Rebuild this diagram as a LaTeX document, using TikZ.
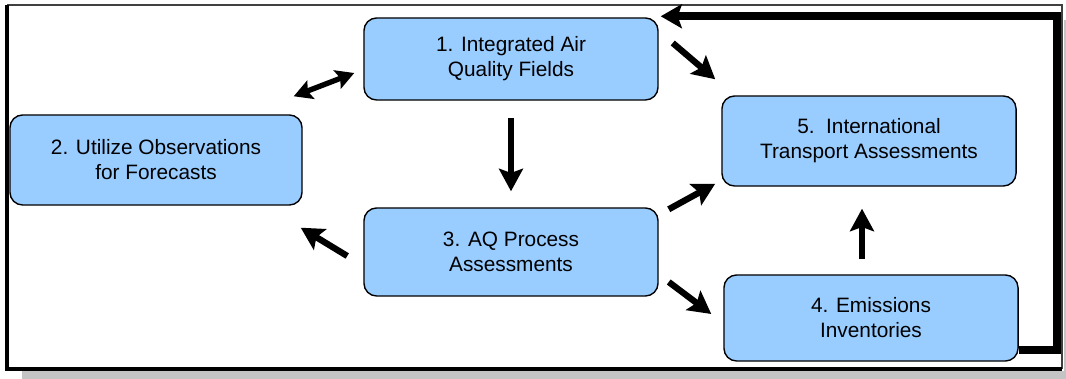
\documentclass[tikz,border=0pt]{standalone}
\usepackage{fontspec}
\setmainfont{Liberation Sans}
\usetikzlibrary{arrows.meta,calc}
\definecolor{boxblue}{RGB}{153,204,255}
\definecolor{shadowgray}{RGB}{196,196,196}
\begin{document}
\begin{tikzpicture}[x=0.025cm,y=-0.025cm,
  box/.style={draw=black,line width=1pt,fill=boxblue,rounded corners=9pt,
    align=center,font=\fontsize{14.8}{17.8}\selectfont,
    minimum width=7.35cm,inner sep=0pt},
  arr/.style={line width=4.5pt,-{Stealth[length=16pt,width=17pt,inset=3pt]}},
  arrboth/.style={line width=3.8pt,{Stealth[length=13pt,width=14pt,inset=2.5pt]}-{Stealth[length=13pt,width=14pt,inset=2.5pt]}},
  loop/.style={line width=5.6pt,-{Stealth[length=15pt,width=17pt,inset=3pt]}}]
\useasboundingbox (0,0) rectangle (1066,379);

% frame and shadow
\fill[shadowgray] (22,371) rectangle (1066,379);
\fill[shadowgray] (1064,20) rectangle (1066,379);
\draw[line width=1.2pt,black!75] (7,5) -- (1062,5) -- (1062,369);
\draw[line width=2.2pt] (7,5) -- (7,369) -- (1062,369);

\node[box,minimum height=2.05cm] (n1) at (511,59) {1. Integrated Air\\Quality Fields};
\node[box,minimum width=7.3cm,minimum height=2.25cm] (n2) at (156,160) {2. Utilize Observations\\for Forecasts};
\node[box,minimum height=2.2cm] (n3) at (511,252) {3. AQ Process\\Assessments};
\node[box,minimum height=2.15cm] (n4) at (871,318) {4. Emissions\\Inventories};
\node[box,minimum height=2.25cm] (n5) at (869,141) {5.\ \ International\\Transport Assessments};

\draw[arrboth] ($(n2.north east)+(-9,-18)$) -- ($(n1.west)+(-9,14)$);
\draw[arr] ($(n1.south)+(0,17)$) -- ($(n3.north)+(0,-16)$);
\draw[arr] ($(n3.west)+(-16,4)$) -- ($(n2.south east)+(-2,22)$);
\draw[arr] ($(n1.east)+(14,-16)$) -- ($(n5.north west)+(-6,-16)$);
\draw[arr] ($(n3.north east)+(10,2)$) -- ($(n5.south west)+(-6,-3)$);
\draw[arr] ($(n3.east)+(10,30)$) -- ($(n4.west)+(-12,-4)$);
\draw[arr] ($(n4.north)+(-9,-15)$) -- ($(n5.south)+(-7,22)$);
\draw[loop] ($(n4.east)+(0,32)$) -- ++(38,0) |- ($(n1.north east)+(2,-1)$);
\end{tikzpicture}
\end{document}
